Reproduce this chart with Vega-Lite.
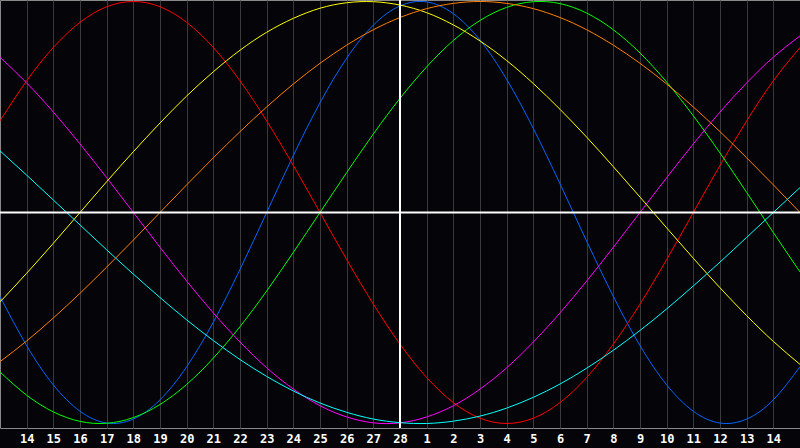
{
  "$schema": "https://vega.github.io/schema/vega-lite/v6.json",
  "width": 800,
  "height": 428,
  "autosize": "none",
  "padding": {"left": 0, "right": 0, "top": 0, "bottom": 20},
  "background": "#050408",
  "config": {
    "view": {"stroke": "#888888", "fill": "#050408", "strokeWidth": 1},
    "axisX": {
      "grid": true, "gridColor": "#3a3a3a", "gridWidth": 1, "gridOpacity": 1,
      "ticks": false, "domain": false, "title": null,
      "labelFont": "DejaVu Sans Mono", "labelFontWeight": "bold", "labelFontSize": 12,
      "labelColor": "#ffffff", "labelPadding": 5, "labelFlush": false, "labelOverlap": false, "labelSeparation": 0
    }
  },
  "datasets": {
    "cycles": [
      {"s":"blue","d":0,"v":-0.398},{"s":"blue","d":1,"v":-0.631},{"s":"blue","d":2,"v":-0.817},{"s":"blue","d":3,"v":-0.942},{"s":"blue","d":4,"v":-0.998},{"s":"blue","d":5,"v":-0.979},{"s":"blue","d":6,"v":-0.888},{"s":"blue","d":7,"v":-0.731},{"s":"blue","d":8,"v":-0.520},{"s":"blue","d":9,"v":-0.270},{"s":"blue","d":10,"v":0},{"s":"blue","d":11,"v":0.270},{"s":"blue","d":12,"v":0.520},{"s":"blue","d":13,"v":0.731},{"s":"blue","d":14,"v":0.888},{"s":"blue","d":15,"v":0.979},{"s":"blue","d":16,"v":0.998},{"s":"blue","d":17,"v":0.942},{"s":"blue","d":18,"v":0.817},{"s":"blue","d":19,"v":0.631},{"s":"blue","d":20,"v":0.398},{"s":"blue","d":21,"v":0.136},{"s":"blue","d":22,"v":-0.136},{"s":"blue","d":23,"v":-0.398},{"s":"blue","d":24,"v":-0.631},{"s":"blue","d":25,"v":-0.817},{"s":"blue","d":26,"v":-0.942},{"s":"blue","d":27,"v":-0.998},{"s":"blue","d":28,"v":-0.979},{"s":"blue","d":29,"v":-0.888},{"s":"blue","d":30,"v":-0.731},
      {"s":"red","d":0,"v":0.434},{"s":"red","d":1,"v":0.624},{"s":"red","d":2,"v":0.782},{"s":"red","d":3,"v":0.901},{"s":"red","d":4,"v":0.975},{"s":"red","d":5,"v":1},{"s":"red","d":6,"v":0.975},{"s":"red","d":7,"v":0.901},{"s":"red","d":8,"v":0.782},{"s":"red","d":9,"v":0.624},{"s":"red","d":10,"v":0.434},{"s":"red","d":11,"v":0.223},{"s":"red","d":12,"v":0},{"s":"red","d":13,"v":-0.223},{"s":"red","d":14,"v":-0.434},{"s":"red","d":15,"v":-0.624},{"s":"red","d":16,"v":-0.782},{"s":"red","d":17,"v":-0.901},{"s":"red","d":18,"v":-0.975},{"s":"red","d":19,"v":-1},{"s":"red","d":20,"v":-0.975},{"s":"red","d":21,"v":-0.901},{"s":"red","d":22,"v":-0.782},{"s":"red","d":23,"v":-0.624},{"s":"red","d":24,"v":-0.434},{"s":"red","d":25,"v":-0.223},{"s":"red","d":26,"v":0},{"s":"red","d":27,"v":0.223},{"s":"red","d":28,"v":0.434},{"s":"red","d":29,"v":0.624},{"s":"red","d":30,"v":0.782},
      {"s":"green","d":0,"v":-0.756},{"s":"green","d":1,"v":-0.866},{"s":"green","d":2,"v":-0.945},{"s":"green","d":3,"v":-0.990},{"s":"green","d":4,"v":-0.999},{"s":"green","d":5,"v":-0.972},{"s":"green","d":6,"v":-0.910},{"s":"green","d":7,"v":-0.815},{"s":"green","d":8,"v":-0.690},{"s":"green","d":9,"v":-0.541},{"s":"green","d":10,"v":-0.372},{"s":"green","d":11,"v":-0.189},{"s":"green","d":12,"v":0},{"s":"green","d":13,"v":0.189},{"s":"green","d":14,"v":0.372},{"s":"green","d":15,"v":0.541},{"s":"green","d":16,"v":0.690},{"s":"green","d":17,"v":0.815},{"s":"green","d":18,"v":0.910},{"s":"green","d":19,"v":0.972},{"s":"green","d":20,"v":0.999},{"s":"green","d":21,"v":0.990},{"s":"green","d":22,"v":0.945},{"s":"green","d":23,"v":0.866},{"s":"green","d":24,"v":0.756},{"s":"green","d":25,"v":0.618},{"s":"green","d":26,"v":0.458},{"s":"green","d":27,"v":0.282},{"s":"green","d":28,"v":0.095},{"s":"green","d":29,"v":-0.095},{"s":"green","d":30,"v":-0.282},
      {"s":"magenta","d":0,"v":0.736},{"s":"magenta","d":1,"v":0.614},{"s":"magenta","d":2,"v":0.476},{"s":"magenta","d":3,"v":0.325},{"s":"magenta","d":4,"v":0.165},{"s":"magenta","d":5,"v":0},{"s":"magenta","d":6,"v":-0.165},{"s":"magenta","d":7,"v":-0.325},{"s":"magenta","d":8,"v":-0.476},{"s":"magenta","d":9,"v":-0.614},{"s":"magenta","d":10,"v":-0.736},{"s":"magenta","d":11,"v":-0.837},{"s":"magenta","d":12,"v":-0.916},{"s":"magenta","d":13,"v":-0.969},{"s":"magenta","d":14,"v":-0.997},{"s":"magenta","d":15,"v":-0.997},{"s":"magenta","d":16,"v":-0.969},{"s":"magenta","d":17,"v":-0.916},{"s":"magenta","d":18,"v":-0.837},{"s":"magenta","d":19,"v":-0.736},{"s":"magenta","d":20,"v":-0.614},{"s":"magenta","d":21,"v":-0.476},{"s":"magenta","d":22,"v":-0.325},{"s":"magenta","d":23,"v":-0.165},{"s":"magenta","d":24,"v":0},{"s":"magenta","d":25,"v":0.165},{"s":"magenta","d":26,"v":0.325},{"s":"magenta","d":27,"v":0.476},{"s":"magenta","d":28,"v":0.614},{"s":"magenta","d":29,"v":0.736},{"s":"magenta","d":30,"v":0.837},
      {"s":"yellow","d":0,"v":-0.424},{"s":"yellow","d":1,"v":-0.288},{"s":"yellow","d":2,"v":-0.146},{"s":"yellow","d":3,"v":0},{"s":"yellow","d":4,"v":0.146},{"s":"yellow","d":5,"v":0.288},{"s":"yellow","d":6,"v":0.424},{"s":"yellow","d":7,"v":0.552},{"s":"yellow","d":8,"v":0.667},{"s":"yellow","d":9,"v":0.769},{"s":"yellow","d":10,"v":0.854},{"s":"yellow","d":11,"v":0.920},{"s":"yellow","d":12,"v":0.968},{"s":"yellow","d":13,"v":0.994},{"s":"yellow","d":14,"v":0.999},{"s":"yellow","d":15,"v":0.983},{"s":"yellow","d":16,"v":0.947},{"s":"yellow","d":17,"v":0.889},{"s":"yellow","d":18,"v":0.813},{"s":"yellow","d":19,"v":0.720},{"s":"yellow","d":20,"v":0.611},{"s":"yellow","d":21,"v":0.489},{"s":"yellow","d":22,"v":0.357},{"s":"yellow","d":23,"v":0.217},{"s":"yellow","d":24,"v":0.073},{"s":"yellow","d":25,"v":-0.073},{"s":"yellow","d":26,"v":-0.217},{"s":"yellow","d":27,"v":-0.357},{"s":"yellow","d":28,"v":-0.489},{"s":"yellow","d":29,"v":-0.611},{"s":"yellow","d":30,"v":-0.720},
      {"s":"cyan","d":0,"v":0.292},{"s":"cyan","d":1,"v":0.177},{"s":"cyan","d":2,"v":0.059},{"s":"cyan","d":3,"v":-0.059},{"s":"cyan","d":4,"v":-0.177},{"s":"cyan","d":5,"v":-0.292},{"s":"cyan","d":6,"v":-0.403},{"s":"cyan","d":7,"v":-0.509},{"s":"cyan","d":8,"v":-0.607},{"s":"cyan","d":9,"v":-0.697},{"s":"cyan","d":10,"v":-0.777},{"s":"cyan","d":11,"v":-0.846},{"s":"cyan","d":12,"v":-0.903},{"s":"cyan","d":13,"v":-0.947},{"s":"cyan","d":14,"v":-0.979},{"s":"cyan","d":15,"v":-0.996},{"s":"cyan","d":16,"v":-1.0},{"s":"cyan","d":17,"v":-0.989},{"s":"cyan","d":18,"v":-0.965},{"s":"cyan","d":19,"v":-0.927},{"s":"cyan","d":20,"v":-0.876},{"s":"cyan","d":21,"v":-0.813},{"s":"cyan","d":22,"v":-0.738},{"s":"cyan","d":23,"v":-0.653},{"s":"cyan","d":24,"v":-0.559},{"s":"cyan","d":25,"v":-0.457},{"s":"cyan","d":26,"v":-0.348},{"s":"cyan","d":27,"v":-0.235},{"s":"cyan","d":28,"v":-0.118},{"s":"cyan","d":29,"v":0},{"s":"cyan","d":30,"v":0.118},
      {"s":"orange","d":0,"v":-0.707},{"s":"orange","d":1,"v":-0.609},{"s":"orange","d":2,"v":-0.5},{"s":"orange","d":3,"v":-0.383},{"s":"orange","d":4,"v":-0.259},{"s":"orange","d":5,"v":-0.131},{"s":"orange","d":6,"v":0},{"s":"orange","d":7,"v":0.131},{"s":"orange","d":8,"v":0.259},{"s":"orange","d":9,"v":0.383},{"s":"orange","d":10,"v":0.5},{"s":"orange","d":11,"v":0.609},{"s":"orange","d":12,"v":0.707},{"s":"orange","d":13,"v":0.793},{"s":"orange","d":14,"v":0.866},{"s":"orange","d":15,"v":0.924},{"s":"orange","d":16,"v":0.966},{"s":"orange","d":17,"v":0.991},{"s":"orange","d":18,"v":1},{"s":"orange","d":19,"v":0.991},{"s":"orange","d":20,"v":0.966},{"s":"orange","d":21,"v":0.924},{"s":"orange","d":22,"v":0.866},{"s":"orange","d":23,"v":0.793},{"s":"orange","d":24,"v":0.707},{"s":"orange","d":25,"v":0.609},{"s":"orange","d":26,"v":0.5},{"s":"orange","d":27,"v":0.383},{"s":"orange","d":28,"v":0.259},{"s":"orange","d":29,"v":0.131},{"s":"orange","d":30,"v":0}
    ],
    "today": [{"d": 15, "v": 0}]
  },
  "layer": [
    {
      "data": {"name": "cycles"},
      "mark": {"type": "line", "interpolate": "natural", "strokeWidth": 1, "clip": true},
      "encoding": {
        "x": {
          "field": "d", "type": "quantitative",
          "scale": {"domain": [0, 30], "nice": false, "zero": false},
          "axis": {
            "values": [1,2,3,4,5,6,7,8,9,10,11,12,13,14,15,16,17,18,19,20,21,22,23,24,25,26,27,28,29],
            "labelExpr": "datum.value <= 15 ? datum.value + 13 : datum.value - 15",
            "labelOverlap": false, "labelSeparation": 0, "labelFlush": false
          }
        },
        "y": {
          "field": "v", "type": "quantitative",
          "scale": {"domain": [-1.0214, 1.007], "nice": false, "zero": false},
          "axis": null
        },
        "color": {
          "field": "s", "type": "nominal",
          "scale": {
            "domain": ["blue","red","green","magenta","yellow","cyan","orange"],
            "range": ["#0066ff","#ff0000","#00ff00","#ff00ff","#ffff00","#00ffff","#ff8000"]
          },
          "legend": null
        }
      }
    },
    {
      "data": {"name": "today"},
      "mark": {"type": "rule", "color": "#ffffff", "strokeWidth": 2},
      "encoding": {"y": {"field": "v", "type": "quantitative", "axis": null}}
    },
    {
      "data": {"name": "today"},
      "mark": {"type": "rule", "color": "#ffffff", "strokeWidth": 2},
      "encoding": {
        "x": {
          "field": "d", "type": "quantitative",
          "axis": {
            "values": [1,2,3,4,5,6,7,8,9,10,11,12,13,14,15,16,17,18,19,20,21,22,23,24,25,26,27,28,29],
            "labelExpr": "datum.value <= 15 ? datum.value + 13 : datum.value - 15",
            "labelOverlap": false, "labelSeparation": 0, "labelFlush": false
          }
        }
      }
    }
  ]
}
